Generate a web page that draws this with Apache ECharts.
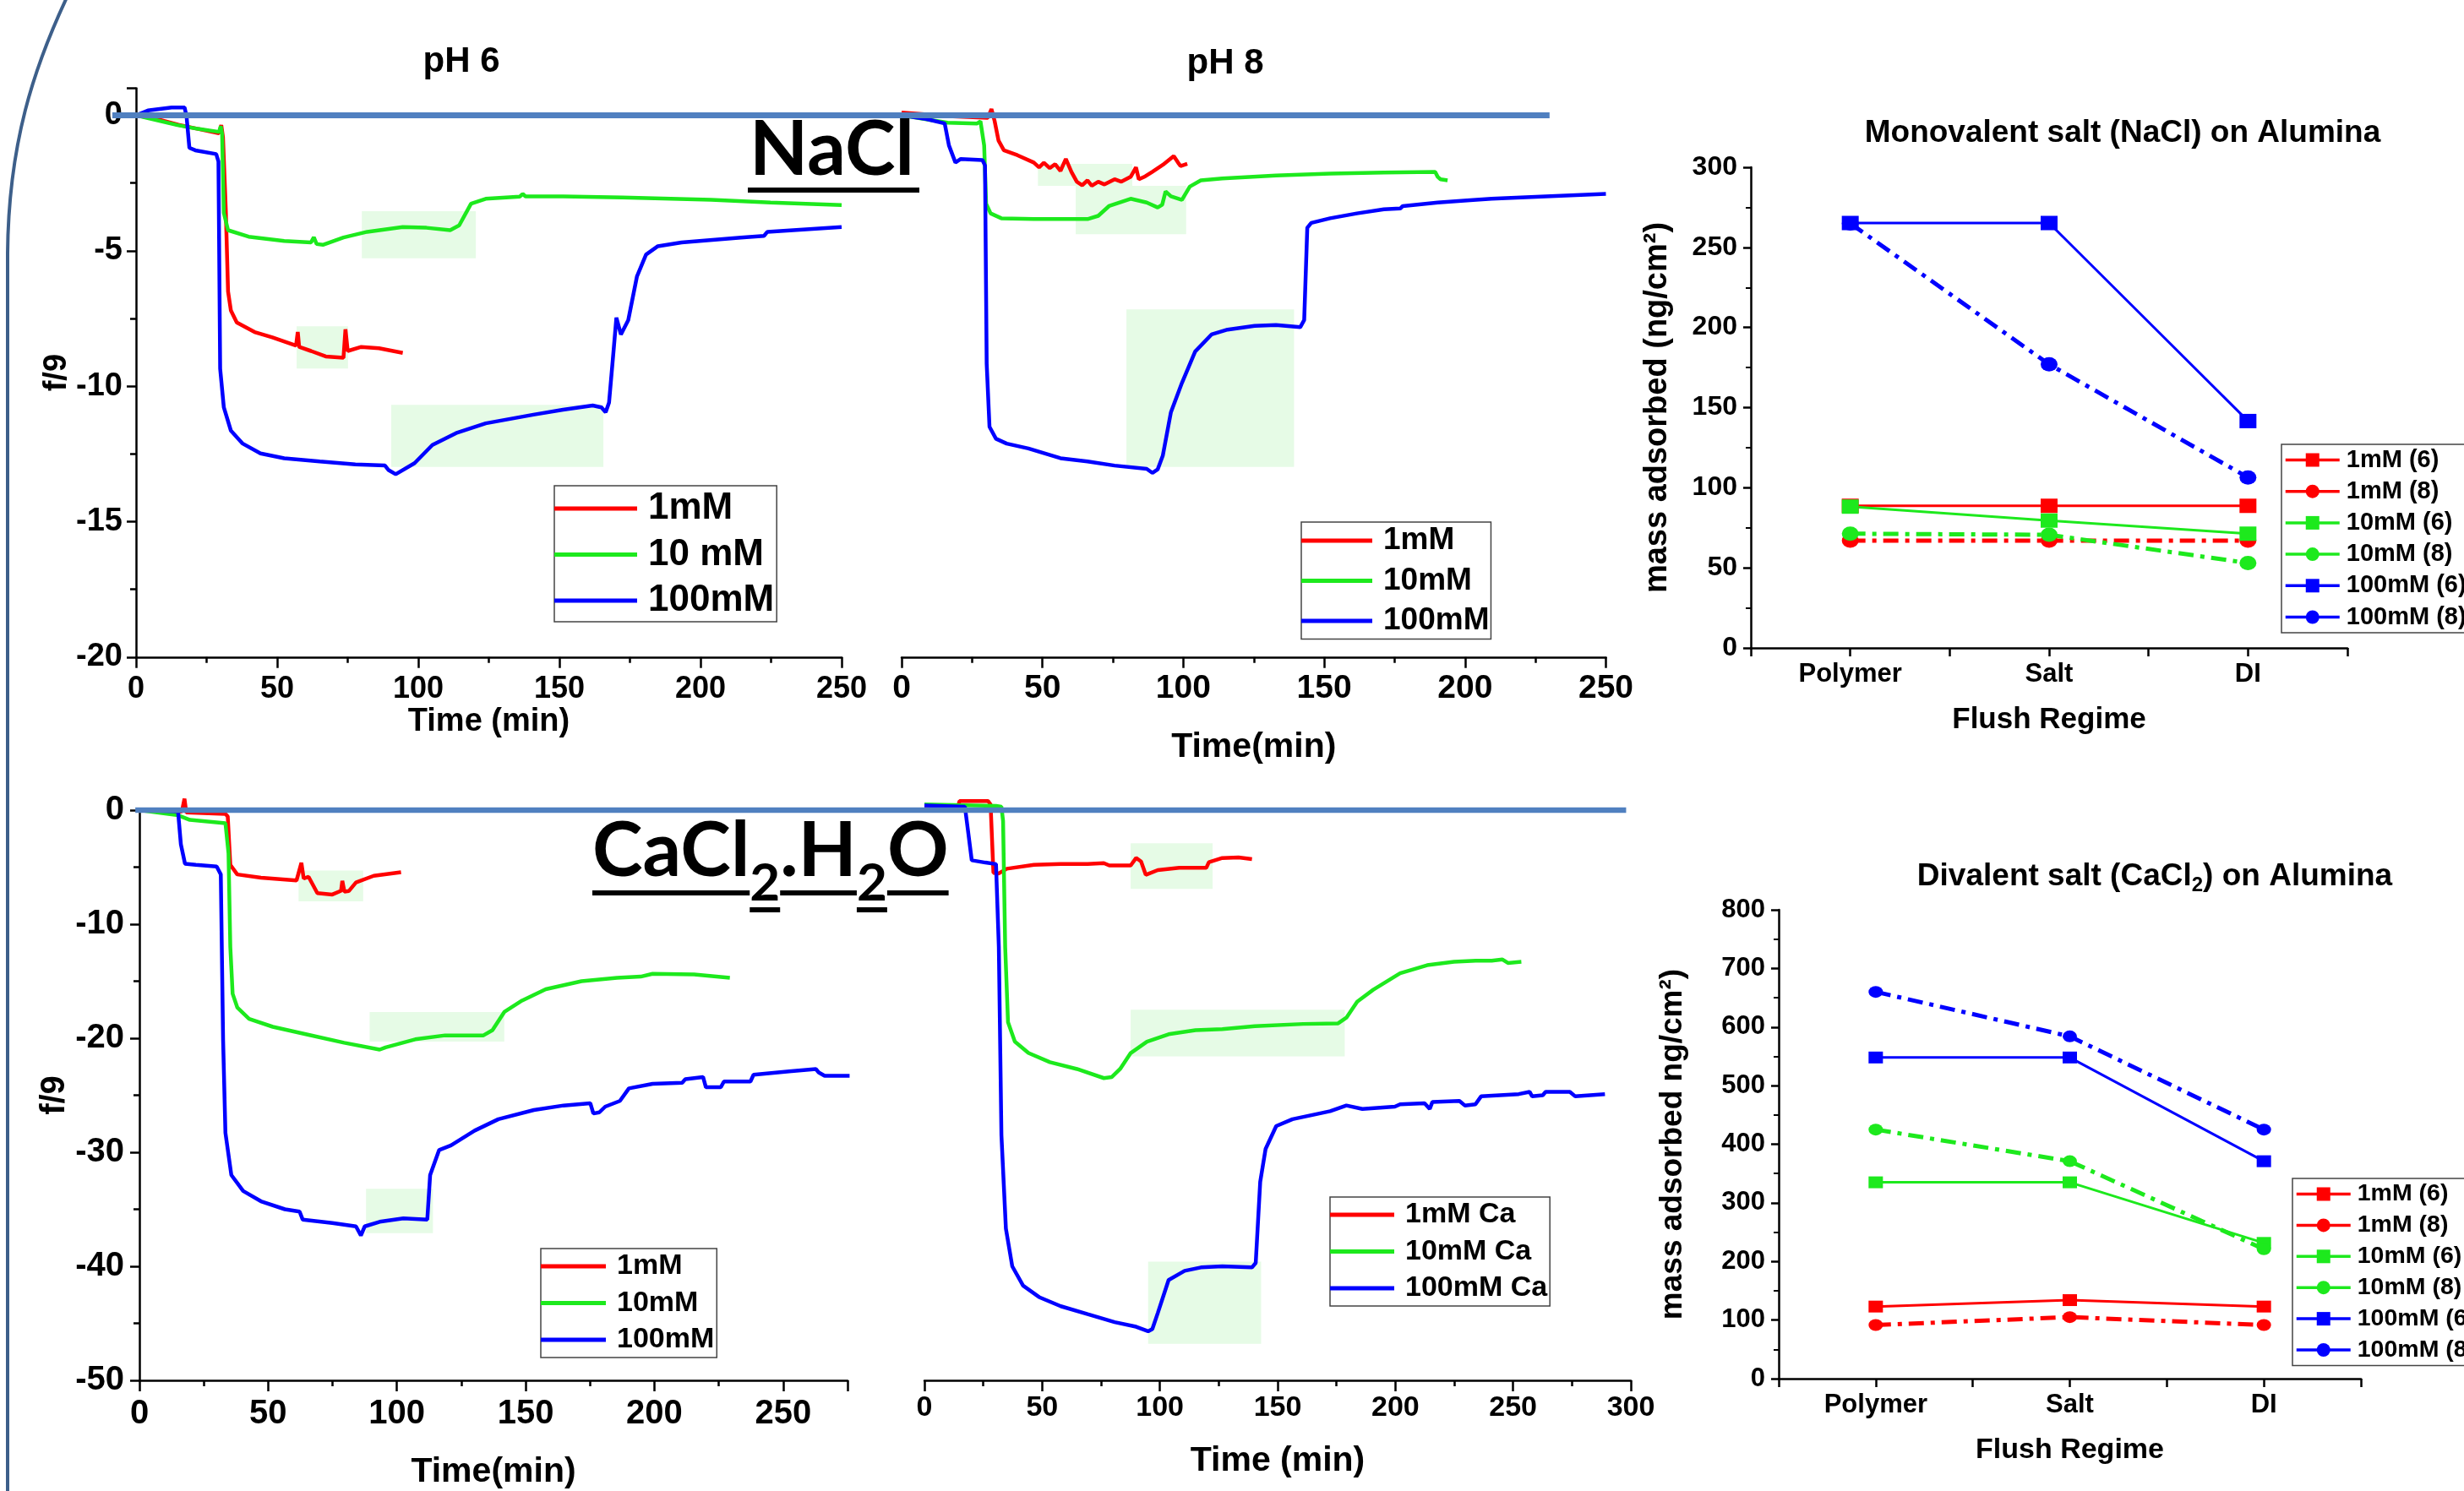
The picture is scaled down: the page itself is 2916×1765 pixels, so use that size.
<!DOCTYPE html>
<html>
<head>
<meta charset="utf-8">
<script src="https://cdn.jsdelivr.net/npm/echarts@6/dist/echarts.min.js"></script>
<style>
html, body { margin: 0; padding: 0; background: #fff; }
#chart { width: 2916px; height: 1765px; }
</style>
</head>
<body>
<div id="chart"></div>
<script>
// ---- QCM traces, [time (min), f/9] ----
// NaCl, pH 6
const nacl6_1 = [[0,0],[8,-0.15],[15,-0.35],[22,-0.5],[29.4,-0.66],[30.2,-0.36],[30.8,-0.8],[31.8,-3.5],[32.6,-6.5],[33.6,-7.2],[35.7,-7.65],[42,-8.0],[48.3,-8.2],[56.7,-8.5],[57.3,-8.0],[57.8,-8.55],[62,-8.7],[67.2,-8.9],[73.5,-8.95],[74.2,-7.9],[75,-8.7],[79.8,-8.55],[86.1,-8.6],[94.5,-8.77]];
const nacl6_10 = [[0,0],[14.7,-0.36],[22,-0.5],[29.4,-0.61],[30,-0.4],[30.5,-0.7],[31.1,-3.6],[32.6,-4.24],[39.9,-4.48],[52.5,-4.64],[62,-4.69],[63,-4.5],[64,-4.75],[66.2,-4.78],[73.5,-4.51],[81.9,-4.3],[94.5,-4.12],[102.9,-4.15],[111.3,-4.24],[114.5,-4.06],[118.7,-3.26],[123.9,-3.08],[136,-3.0],[137,-2.9],[138,-2.99],[151.3,-2.99],[172.3,-3.03],[203.8,-3.12],[224.8,-3.22],[250,-3.31]];
const nacl6_100 = [[0,0],[4.2,0.18],[12.6,0.29],[17.2,0.29],[17.9,-0.04],[18.9,-1.2],[21,-1.29],[28.4,-1.43],[29.2,-1.7],[29.8,-9.35],[31.1,-10.78],[33.6,-11.64],[37.8,-12.12],[44.1,-12.48],[52.5,-12.66],[65.1,-12.78],[77.7,-12.89],[88.2,-12.93],[89.5,-13.1],[92,-13.25],[98.7,-12.84],[105,-12.17],[113.4,-11.73],[123.9,-11.37],[140.8,-11.05],[151.3,-10.87],[161.8,-10.71],[164.9,-10.78],[166.4,-10.96],[167.6,-10.6],[169.1,-8.81],[170.2,-7.47],[171.8,-8.09],[174.4,-7.56],[177.5,-5.94],[180.7,-5.14],[184.9,-4.83],[193.3,-4.69],[214.3,-4.51],[222.5,-4.45],[223.7,-4.3],[250,-4.12]];
// NaCl, pH 8
const nacl8_1 = [[0,0.1],[18.2,-0.04],[30.6,-0.09],[31.9,0.23],[33,-0.2],[34.4,-0.93],[36.3,-1.29],[41.1,-1.47],[46.9,-1.74],[48.8,-1.92],[50.5,-1.75],[52.6,-1.95],[54.5,-1.8],[56.4,-2.05],[58.3,-1.61],[60.3,-2.09],[62.2,-2.45],[64.1,-2.58],[66,-2.4],[67.5,-2.6],[69.8,-2.45],[72,-2.55],[75.6,-2.36],[78,-2.45],[81.3,-2.27],[83.2,-1.92],[84.2,-2.36],[86.5,-2.25],[88.9,-2.09],[92.7,-1.83],[96.6,-1.5],[98.1,-1.74],[99,-1.87],[101.4,-1.79]];
const nacl8_10 = [[0,0],[16.3,-0.27],[26.8,-0.3],[28,-0.22],[29.3,-1.11],[30,-3.26],[31.6,-3.62],[35.4,-3.8],[46.9,-3.83],[56.4,-3.83],[66,-3.83],[69.8,-3.71],[73.6,-3.35],[81.3,-3.08],[87,-3.22],[90.9,-3.4],[92.5,-3.3],[93.7,-2.81],[95.6,-2.99],[99.5,-3.12],[102.3,-2.63],[106.2,-2.4],[113.8,-2.33],[132.9,-2.22],[152.1,-2.15],[171.2,-2.11],[189.4,-2.09],[190.3,-2.27],[191.3,-2.36],[193.8,-2.4]];
const nacl8_100 = [[0,0],[8.6,-0.13],[15.3,-0.3],[16.8,-1.11],[19.1,-1.74],[21,-1.61],[28.7,-1.65],[29.6,-1.85],[30.2,-9.17],[31.2,-11.5],[33.5,-11.94],[37.3,-12.12],[45,-12.3],[56.4,-12.66],[66,-12.78],[75.6,-12.93],[87,-13.05],[89,-13.2],[90.9,-13.07],[92.7,-12.57],[95.6,-10.96],[99.5,-9.88],[104.2,-8.72],[110,-8.09],[115.7,-7.91],[125.3,-7.77],[132.9,-7.74],[141.5,-7.82],[142.9,-7.56],[144,-4.15],[145.4,-3.97],[152.1,-3.8],[161.6,-3.62],[171.2,-3.47],[177,-3.44],[177.9,-3.35],[190.3,-3.22],[201.8,-3.13],[209.4,-3.08],[228.6,-2.99],[250,-2.9]];
// CaCl2, pH 6
const ca6_1 = [[0,0],[15,-0.2],[16.5,-0.1],[17.5,1.0],[18.2,-0.2],[33.4,-0.33],[34.3,-0.55],[35.3,-4.8],[38,-5.64],[47.2,-5.93],[61,-6.17],[62.9,-4.62],[63.8,-6.0],[65.7,-5.85],[69.1,-7.28],[74.9,-7.4],[78.3,-7.07],[78.8,-6.2],[79.6,-7.15],[81.3,-7.1],[84.1,-6.34],[91,-5.76],[101.6,-5.44]];
const ca6_10 = [[0,0],[15,-0.45],[19.6,-0.86],[33.4,-1.14],[34.6,-3.8],[35.3,-12],[36.2,-16.1],[38,-17.3],[42.6,-18.3],[51.8,-19],[65.7,-19.7],[79.5,-20.4],[93.3,-21],[95.6,-20.8],[107.1,-20.1],[118.7,-19.75],[133.6,-19.75],[137.1,-19.3],[141.7,-17.7],[148.6,-16.7],[157.8,-15.7],[171.7,-15],[185.5,-14.7],[194.7,-14.6],[199.3,-14.35],[215.4,-14.4],[229.3,-14.7]];
const ca6_100 = [[0,0],[15,-0.12],[16.1,-3],[17.7,-4.7],[21.9,-4.8],[30,-4.95],[31.6,-5.64],[32.5,-20.2],[33.4,-28.3],[35.7,-32],[40.3,-33.4],[47.2,-34.3],[56.5,-35],[62.2,-35.2],[63.4,-35.9],[74.9,-36.2],[84.1,-36.5],[86,-37.3],[87.5,-36.5],[93.3,-36.1],[102.5,-35.8],[111.8,-35.9],[112.9,-32],[116.4,-29.8],[121,-29.4],[130.2,-28.1],[139.4,-27.1],[153.2,-26.3],[164.7,-25.9],[175.1,-25.7],[176.3,-26.6],[178.6,-26.5],[180.9,-26],[186.6,-25.5],[190.1,-24.4],[199.3,-24.0],[210.8,-23.9],[212,-23.6],[218.9,-23.4],[220,-24.3],[225.8,-24.3],[227,-23.8],[237.3,-23.8],[238.5,-23.2],[252.3,-22.9],[262.7,-22.7],[263.8,-23.0],[266.1,-23.3],[275.8,-23.3]];
// CaCl2, pH 8
const ca8_1 = [[0,0.4],[14.4,0.4],[14.9,0.8],[27,0.8],[28.1,0.5],[29.3,-5.5],[31.6,-5.55],[35,-5.14],[46.5,-4.8],[57.9,-4.73],[69.3,-4.73],[76.2,-4.65],[78.5,-4.85],[87.6,-4.85],[89.9,-4.2],[92,-4.5],[94,-5.67],[99.1,-5.26],[108.2,-5.06],[119.7,-5.06],[120.8,-4.56],[126.5,-4.2],[133.4,-4.15],[139.1,-4.3]];
const ca8_10 = [[0,0.5],[30.4,0.37],[32.7,0.3],[33.4,-0.95],[34.3,-12],[35.5,-18.6],[38.4,-20.3],[44.2,-21.3],[53.3,-22.1],[64.8,-22.7],[76.2,-23.5],[79.6,-23.4],[83.1,-22.7],[87.6,-21.3],[94.5,-20.3],[103.7,-19.65],[115.1,-19.3],[126.5,-19.2],[140.3,-18.95],[160.9,-18.75],[175.7,-18.7],[179.2,-18.2],[183.8,-16.8],[190.6,-15.75],[202,-14.3],[213.5,-13.6],[224.9,-13.3],[234.1,-13.2],[240.9,-13.2],[245.5,-13.1],[247.8,-13.4],[253.5,-13.3]];
const ca8_100 = [[0,0.4],[17.2,0.3],[18.5,-1.8],[20.1,-4.4],[25.9,-4.6],[30.4,-4.73],[31.6,-12],[32.7,-28.5],[34.6,-36.7],[37.3,-40],[41.9,-41.7],[48.7,-42.7],[57.9,-43.5],[69.3,-44.2],[80.8,-44.9],[89.9,-45.3],[95,-45.7],[96.8,-45.5],[99.1,-44.1],[103.7,-41.2],[110.5,-40.4],[117.4,-40.1],[126.5,-40],[139.1,-40.1],[140.7,-39.7],[142.6,-32.6],[144.9,-29.7],[149.4,-27.7],[156.3,-27.1],[167.7,-26.6],[172.3,-26.4],[179.2,-25.9],[186,-26.2],[199.8,-26],[202,-25.8],[212.4,-25.7],[214.6,-26.2],[215.7,-25.6],[227.2,-25.5],[229.5,-25.9],[234,-25.8],[236.4,-25.1],[252.4,-24.9],[257,-24.7],[258.1,-25.1],[262.6,-25.0],[263.8,-24.7],[274.1,-24.7],[276.4,-25.1],[289,-24.9]];

// shaded rinse windows [[t1, f1], [t2, f2]]
const nacl6Box = { r: [[56.9,-7.79],[75.1,-9.35]], g: [[80,-3.54],[120.4,-5.28]], b: [[90.4,-10.69],[165.6,-12.98]] };
const nacl8Box = { r: [[48.4,-1.79],[81.9,-2.6]], g: [[61.8,-2.6],[101,-4.39]], b: [[79.8,-7.16],[139.3,-12.98]] };
const ca6Box = { r: [[61.8,-5.3],[86.9,-8.0]], g: [[89.4,-17.7],[141.7,-20.3]], b: [[88,-33.2],[114,-37.1]] };
const ca8Box = { r: [[87.6,-2.9],[122.4,-6.9]], g: [[87.6,-17.5],[178.5,-21.6]], b: [[95,-39.6],[143,-46.8]] };

// ---- mass adsorbed per flush step ----
const flushRegimes = ['Polymer', 'Salt', 'DI'];
const saltNames = ['1mM (6)', '1mM (8)', '10mM (6)', '10mM (8)', '100mM (6)', '100mM (8)'];
const monoValues = [[88.7,88.7,88.7],[67,67,67],[88.2,79.5,71.3],[71.3,70.6,53],[265.2,265.2,141.6],[265,177,106.4]];
const diValues = [[123,134,123],[91.5,105,91.5],[335,335,231.6],[425,371,221],[548,548,371],[660,584,425]];

const RED = '#ff0000', GREEN = '#1de91d', BLUE = '#0000ff';
const saltColors = [RED, RED, GREEN, GREEN, BLUE, BLUE];
const FONT = '"Liberation Sans", Arial, sans-serif';
const BOX = '#e6fbe6';

const chart = echarts.init(document.getElementById('chart'));

function txt(size) {
    return { fontSize: size, fontWeight: 'bold', fontFamily: FONT, color: '#000' };
}
const axLine = () => ({ show: true, onZero: false, lineStyle: { color: '#000', width: 2.5 } });
const tick = (len) => ({ show: true, length: len, lineStyle: { color: '#000', width: 2.5 } });
const minor = (len) => ({ show: true, splitNumber: 2, length: len, lineStyle: { color: '#000', width: 2.5 } });

function timeAxis(gi, max, labelSize, margin, name, nameSize, nameGap) {
    return {
        gridIndex: gi, type: 'value', position: 'bottom', min: 0, max: max, interval: 50,
        axisLine: axLine(), axisTick: tick(13), minorTick: minor(7), splitLine: { show: false },
        axisLabel: Object.assign(txt(labelSize), { margin: margin, formatter: v => v % 50 === 0 ? String(v) : '' }),
        name: name, nameLocation: 'middle', nameGap: nameGap, nameTextStyle: txt(nameSize)
    };
}
function fAxis(gi, min, max, interval, labelSize, margin, nameGap) {
    return {
        gridIndex: gi, type: 'value', position: 'left', min: min, max: max, interval: interval,
        axisLine: axLine(), axisTick: tick(11), minorTick: minor(7), splitLine: { show: false },
        axisLabel: Object.assign(txt(labelSize), { margin: margin, formatter: v => v % interval === 0 ? String(v) : '' }),
        name: 'f/9', nameLocation: 'middle', nameRotate: 90, nameGap: nameGap, nameTextStyle: txt(labelSize)
    };
}
// the pH 8 panels share the pH 6 scale but draw no y axis
function hiddenF(gi, min, max, interval) {
    return {
        gridIndex: gi, type: 'value', position: 'left', min: min, max: max, interval: interval,
        axisLine: { show: false, onZero: false }, axisTick: { show: false }, minorTick: { show: false },
        axisLabel: { show: false }, splitLine: { show: false }
    };
}
function flushAxis(gi, labelSize, nameSize) {
    return {
        gridIndex: gi, type: 'value', position: 'bottom', min: 0, max: 3, interval: 0.5,
        axisLine: axLine(), axisTick: tick(10), splitLine: { show: false },
        axisLabel: Object.assign(txt(labelSize), { margin: 16, formatter: v => {
            const i = v - 0.5;
            return Number.isInteger(i) ? flushRegimes[i] : '';
        } }),
        name: 'Flush Regime', nameLocation: 'middle', nameGap: 68, nameTextStyle: txt(nameSize)
    };
}
function massAxis(gi, max, interval, labelSize, name, nameSize, nameGap) {
    return {
        gridIndex: gi, type: 'value', position: 'left', min: 0, max: max, interval: interval,
        axisLine: axLine(), axisTick: tick(9), splitLine: { show: false },
        minorTick: { show: true, splitNumber: 2, length: 6, lineStyle: { color: '#000', width: 2 } },
        axisLabel: Object.assign(txt(labelSize), { margin: 16 }),
        name: name, nameLocation: 'middle', nameRotate: 90, nameGap: nameGap, nameTextStyle: txt(nameSize)
    };
}

function qcm(name, color, data, idx, box) {
    return {
        type: 'line', name: name, xAxisIndex: idx, yAxisIndex: idx, data: data,
        symbol: 'none', clip: false, z: 3,
        lineStyle: { color: color, width: 4.5 }, itemStyle: { color: color },
        markArea: { silent: true, itemStyle: { color: BOX }, data: [[{ coord: box[0] }, { coord: box[1] }]] }
    };
}
function salt(k, values, idx, size) {
    const dashed = saltNames[k].indexOf('(8)') > -1;
    return {
        type: 'line', name: saltNames[k], xAxisIndex: idx, yAxisIndex: idx,
        data: values[k].map((v, i) => [i + 0.5, v]),
        symbol: dashed ? 'circle' : 'rect', symbolSize: size,
        lineStyle: { color: saltColors[k], width: dashed ? 5 : 3, type: dashed ? [18, 8, 5, 8] : 'solid' },
        itemStyle: { color: saltColors[k] }
    };
}

function qcmLegend(left, top, names, size, iconW, gap, pad) {
    return {
        left: left, top: top, orient: 'vertical', data: names, selectedMode: false,
        icon: 'rect', itemWidth: iconW, itemHeight: 5, itemGap: gap, padding: pad,
        borderColor: '#444', borderWidth: 1.5, backgroundColor: '#fff',
        textStyle: Object.assign(txt(size), { padding: [0, 0, 0, 8] })
    };
}
function saltLegend(left, top, size, gap) {
    return {
        left: left, top: top, orient: 'vertical', data: saltNames, selectedMode: false,
        itemWidth: 64, itemHeight: 20, itemGap: gap, padding: [4, 80, 4, 3],
        borderColor: '#444', borderWidth: 1.5,
        lineStyle: { width: 3.5, type: 'solid' },
        textStyle: Object.assign(txt(size), { padding: [0, 0, 0, 3] })
    };
}

const series = [
    qcm('1mM', RED, nacl6_1, 0, nacl6Box.r),
    qcm('10 mM', GREEN, nacl6_10, 0, nacl6Box.g),
    qcm('100mM', BLUE, nacl6_100, 0, nacl6Box.b),
    qcm('1mM', RED, nacl8_1, 1, nacl8Box.r),
    qcm('10mM', GREEN, nacl8_10, 1, nacl8Box.g),
    qcm('100mM', BLUE, nacl8_100, 1, nacl8Box.b),
    qcm('1mM', RED, ca6_1, 3, ca6Box.r),
    qcm('10mM', GREEN, ca6_10, 3, ca6Box.g),
    qcm('100mM', BLUE, ca6_100, 3, ca6Box.b),
    qcm('1mM Ca', RED, ca8_1, 4, ca8Box.r),
    qcm('10mM Ca', GREEN, ca8_10, 4, ca8Box.g),
    qcm('100mM Ca', BLUE, ca8_100, 4, ca8Box.b)
];
for (let k = 0; k < saltNames.length; k++) series.push(salt(k, monoValues, 2, [20, 17]));
for (let k = 0; k < saltNames.length; k++) series.push(salt(k, diValues, 5, [17, 14]));

const option = {
    animation: false,
    backgroundColor: '#fff',
    grid: [
        { left: 161, top: 104.5, width: 835, height: 673.3 },
        { left: 1067, top: 104.5, width: 833.5, height: 673.3 },
        { left: 2072, top: 198, width: 706, height: 569 },
        { left: 165, top: 959, width: 838, height: 675 },
        { left: 1094, top: 959, width: 836, height: 675 },
        { left: 2105, top: 1077, width: 689, height: 555 }
    ],
    xAxis: [
        timeAxis(0, 250, 36, 20, 'Time (min)', 38, 58),
        timeAxis(1, 250, 39, 18, 'Time(min)', 41, 86),
        flushAxis(2, 31, 35),
        timeAxis(3, 275, 40, 20, 'Time(min)', 41, 88),
        timeAxis(4, 300, 34, 16, 'Time (min)', 41, 75),
        flushAxis(5, 31, 34)
    ],
    yAxis: [
        fAxis(0, -20, 1, 5, 38, 16, 68),
        hiddenF(1, -20, 1, 5),
        massAxis(2, 300, 50, 32, 'mass adsorbed (ng/cm²)', 38, 91),
        fAxis(3, -50, 0, 10, 40, 18, 80),
        hiddenF(4, -50, 0, 10),
        massAxis(5, 800, 100, 31, 'mass adsorbed ng/cm²)', 37, 107)
    ],
    legend: [
        qcmLegend(656, 575, ['1mM', '10 mM', '100mM'], 44, 98, 10.5, [5, 3, 3, 0]),
        qcmLegend(1540, 618, ['1mM', '10mM', '100mM'], 37, 84, 10.5, [3.5, 2, 3, 0]),
        qcmLegend(640, 1478, ['1mM', '10mM', '100mM'], 34, 77, 9.5, [4, 3, 4, 0]),
        qcmLegend(1574, 1417, ['1mM Ca', '10mM Ca', '100mM Ca'], 34, 76, 9.5, [4, 3, 4, 0]),
        saltLegend(2700, 526, 29, 8.2),
        saltLegend(2713, 1395, 28.5, 7.9)
    ],
    series: series
};
chart.setOption(option);

// ---- text decorations ----
const measure = document.createElement('canvas').getContext('2d');
function textW(s, size, family) {
    measure.font = 'bold ' + size + 'px ' + family;
    return measure.measureText(s).width;
}
function label(s, x, y, size, align, family) {
    return {
        type: 'text', x: x, y: y, z: 50,
        style: { text: s, fontSize: size, fontWeight: 'bold', fontFamily: family || FONT, fill: '#000',
                 align: align || 'center', verticalAlign: 'middle', textAlign: align || 'center', textVerticalAlign: 'middle' }
    };
}
function rule(x1, y1, x2, y2, color, w) {
    return { type: 'line', z: 40, shape: { x1: x1, y1: y1, x2: x2, y2: y2 }, style: { stroke: color, lineWidth: w } };
}
const CAL = 'Lato, "Open Sans", sans-serif';

// pieces of a title with a subscript, laid out left to right
function subTitle(parts, cx, cy, size, subSize, family) {
    const widths = parts.map((p, i) => textW(p, i % 2 ? subSize : size, family));
    let x = cx - widths.reduce((a, b) => a + b, 0) / 2;
    const out = [];
    parts.forEach((p, i) => {
        out.push(label(p, x, i % 2 ? cy + size * 0.28 : cy, i % 2 ? subSize : size, 'left', family));
        x += widths[i];
    });
    return out;
}

const graphics = [
    label('pH 6', 546, 73, 42),
    label('pH 8', 1450, 75, 42),
    label('Monovalent salt (NaCl) on Alumina', 2512, 158, 37),
    label('NaCl', 887, 178, 90, 'left', CAL),
    rule(885, 225, 1088, 225, '#000', 6)
].concat(subTitle(['Divalent salt (CaCl', '2', ') on Alumina'], 2550, 1038, 37, 24, FONT));

// CaCl2.H2O heading, underlined, with subscripts
const caParts = ['CaCl', '2', '.H', '2', 'O'];
let cx = 701;
caParts.forEach((p, i) => {
    const sub = i % 2 === 1;
    const size = sub ? 62 : 90;
    const w = textW(p, size, CAL);
    graphics.push(label(p, cx, sub ? 1046 : 1008, size, 'left', CAL));
    graphics.push(rule(cx, sub ? 1077 : 1057, cx + w, sub ? 1077 : 1057, '#000', 6));
    cx += w;
});

// zero reference bars drawn across the paired panels
const t0 = chart.convertToPixel({ gridIndex: 0 }, [-8.4, 0]);
const t1 = chart.convertToPixel({ gridIndex: 1 }, [230, 0]);
const b0 = chart.convertToPixel({ gridIndex: 3 }, [-1.6, 0]);
const b1 = chart.convertToPixel({ gridIndex: 4 }, [298, 0]);
graphics.push(rule(t0[0], t0[1], t1[0], t1[1], '#5080c0', 7));
graphics.push(rule(b0[0], b0[1], b1[0], b1[1], '#5080c0', 6.5));

// rounded frame edge on the left
graphics.push({ type: 'bezierCurve', z: 40, shape: { x1: 80, y1: -5, cpx1: 40, cpy1: 80, cpx2: 10, cpy2: 170, x2: 9, y2: 300 }, style: { stroke: '#3d5f8a', lineWidth: 4, fill: null } });
graphics.push(rule(9, 300, 9, 1770, '#3d5f8a', 4));

chart.setOption({ graphic: { elements: graphics } });
</script>
</body>
</html>
